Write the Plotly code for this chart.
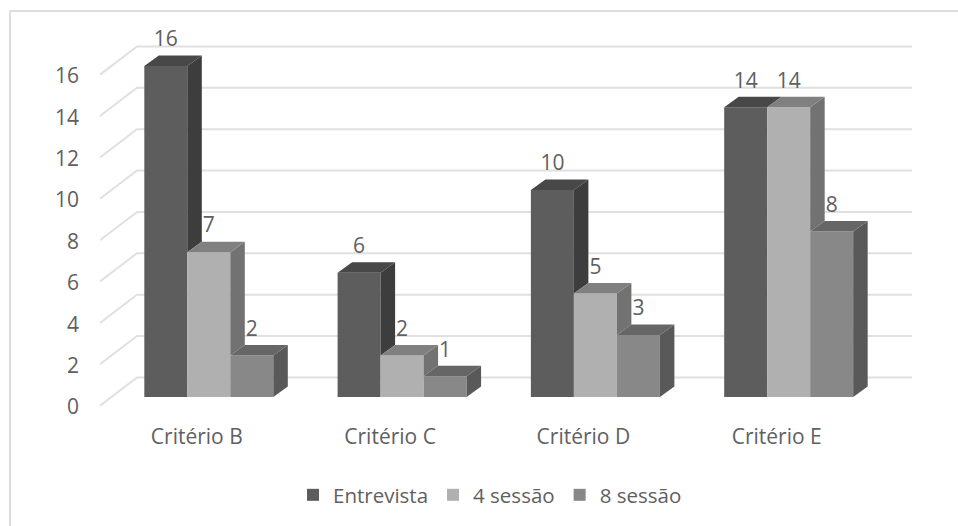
import plotly.graph_objects as go

categories = ["Critério B", "Critério C", "Critério D", "Critério E"]
entrevista = [16, 6, 10, 14]
sessao_4 = [7, 2, 5, 14]
sessao_8 = [2, 1, 3, 8]
y_ticks = [0, 2, 4, 6, 8, 10, 12, 14, 16]

series_names = ["Entrevista", "4 sessão", "8 sessão"]
series_values = [entrevista, sessao_4, sessao_8]
front_colors = ["#5d5d5d", "#b0b0b0", "#888888"]
top_colors = ["#484848", "#808080", "#666666"]
side_colors = ["#3d3d3d", "#727272", "#595959"]

FONT = "Open Sans"
TEXT = "#606060"
GRID = "#e0e0e0"

# Canvas and plot area, in pixels
W, H = 958, 526
L, R, T, B = 100, 46, 20, 116
GROUP_PX = 193.3
UNIT_PX = 20.69
X_MIN, X_MAX = -0.5629, 3.638
Y_MIN, Y_MAX = -0.628, 18.22

# Oblique projection of the depth axis, in data units
BAR_W = 43 / GROUP_PX
DX = 14.5 / GROUP_PX
DY = 10.5 / UNIT_PX
WALL_DX = 37 / GROUP_PX
WALL_DY = 0.945
FLOOR_DY = -0.42


def paper_x(px):
    return (px - L) / (W - L - R)


def paper_y(px):
    return 1 - (px - T) / (H - T - B)


fig = go.Figure()

# Visible side and top faces of each box; a side is only exposed above its right neighbour
for s, (values, top_c, side_c) in enumerate(zip(series_values, top_colors, side_colors)):
    side_x, side_y, top_x, top_y = [], [], [], []
    for i, v in enumerate(values):
        left = i + (s - 1.5) * BAR_W
        right = left + BAR_W
        base = series_values[s + 1][i] if s < 2 else 0
        side_x += [right, right + DX, right + DX, right, right, None]
        side_y += [base, base + DY, v + DY, v, base, None]
        top_x += [left, left + DX, right + DX, right, left, None]
        top_y += [v, v + DY, v + DY, v, v, None]
    for xs, ys, color in ((side_x, side_y, side_c), (top_x, top_y, top_c)):
        fig.add_trace(go.Scatter(
            x=xs, y=ys, mode="lines", fill="toself", fillcolor=color,
            line=dict(width=0, color=color), showlegend=False, hoverinfo="skip",
        ))

# Front faces
for name, values, color in zip(series_names, series_values, front_colors):
    fig.add_trace(go.Bar(
        x=list(range(len(categories))), y=values, name=name,
        marker=dict(color=color, line=dict(width=0)),
    ))

# Value labels floating above each box
for s, values in enumerate(series_values):
    fig.add_trace(go.Scatter(
        x=[i + (s - 1) * BAR_W for i in range(len(values))],
        y=[v + 25 / UNIT_PX for v in values],
        mode="text", text=[str(v) for v in values], textposition="middle center",
        textfont=dict(family=FONT, size=21, color=TEXT),
        showlegend=False, hoverinfo="skip", cliponaxis=False,
    ))

# Gridlines run along the floor edge, then across the back wall
shapes = []
for t in y_ticks:
    shapes.append(dict(
        type="path", xref="x", yref="y", layer="below",
        path=f"M {X_MIN},{t + FLOOR_DY} L {X_MIN + WALL_DX},{t + WALL_DY} L {X_MAX},{t + WALL_DY}",
        line=dict(color=GRID, width=2),
    ))

# Chart frame: top and left edges only
frame = dict(type="line", xref="paper", yref="paper", line=dict(color="#dcdcdc", width=2), layer="below")
shapes.append(dict(frame, x0=paper_x(10), x1=paper_x(W), y0=paper_y(11), y1=paper_y(11)))
shapes.append(dict(frame, x0=paper_x(10), x1=paper_x(10), y0=paper_y(11), y1=paper_y(H)))

fig.update_layout(
    width=W, height=H, autosize=False,
    margin=dict(l=L, r=R, t=T, b=B, pad=0, autoexpand=False),
    paper_bgcolor="white", plot_bgcolor="white",
    barmode="group", bargap=1 - 3 * BAR_W, bargroupgap=0,
    font=dict(family=FONT, size=21, color=TEXT),
    shapes=shapes,
    legend=dict(
        orientation="h", x=paper_x(293), y=paper_y(495), xanchor="left", yanchor="middle",
        font=dict(family=FONT, size=20.5, color=TEXT),
        bgcolor="rgba(0,0,0,0)", traceorder="normal",
    ),
    xaxis=dict(
        range=[X_MIN, X_MAX], tickmode="array", tickvals=list(range(len(categories))),
        ticktext=categories, showgrid=False, zeroline=False, showline=False, ticks="",
        ticklabelstandoff=12, ticklabelshift=-12,
    ),
    yaxis=dict(
        range=[Y_MIN, Y_MAX], tickmode="array", tickvals=y_ticks,
        showgrid=False, zeroline=False, showline=False, ticks="",
        ticklabelstandoff=20, ticklabelshift=10,
    ),
)

fig.write_html("out.html")
